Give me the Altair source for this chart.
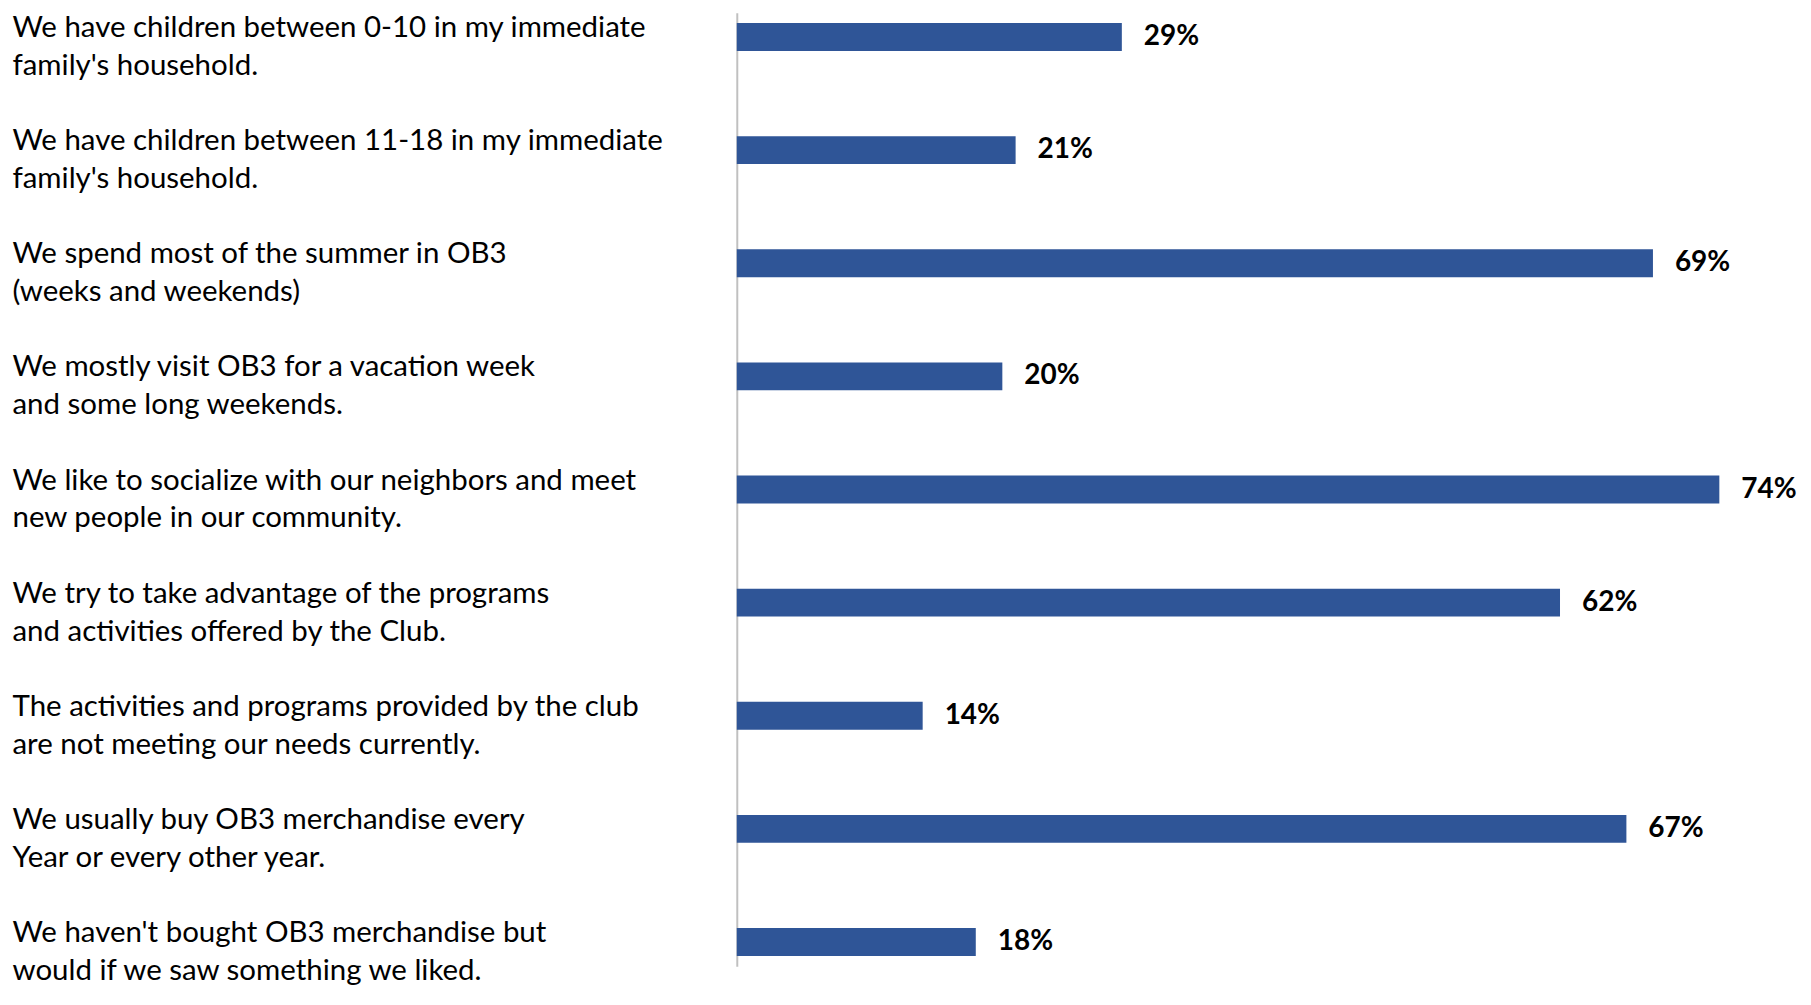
import altair as alt
import pandas as pd

statements = [
    "We have children between 0-10 in my immediate|family's household.",
    "We have children between 11-18 in my immediate|family's household.",
    "We spend most of the summer in OB3|(weeks and weekends)",
    "We mostly visit OB3 for a vacation week|and some long weekends.",
    "We like to socialize with our neighbors and meet|new people in our community.",
    "We try to take advantage of the programs|and activities offered by the Club.",
    "The activities and programs provided by the club|are not meeting our needs currently.",
    "We usually buy OB3 merchandise every|Year or every other year.",
    "We haven't bought OB3 merchandise but|would if we saw something we liked.",
]
shares = [0.29, 0.21, 0.69, 0.20, 0.74, 0.62, 0.14, 0.67, 0.18]

df = pd.DataFrame({"statement": statements, "share": shares})

FONT = "Lato"
BLUE = "#2F5597"

y_enc = alt.Y(
    "statement:N",
    sort=None,
    scale=alt.Scale(paddingInner=0.753, paddingOuter=0.0904),
    axis=alt.Axis(
        title=None,
        ticks=False,
        tickSize=0,
        labelAlign="left",
        labelBaseline="middle",
        labelPadding=726,
        labelOffset=-9,
        labelExpr="split(datum.label, '|')",
        labelLineHeight=38,
        labelFont=FONT,
        labelFontSize=29.5,
        labelColor="#000000",
        labelLimit=0,
        domainColor="#C0C0C0",
        domainWidth=2,
        grid=False,
    ),
)

x_enc = alt.X(
    "share:Q",
    scale=alt.Scale(domain=[0, 0.8]),
    axis=None,
)

bars = alt.Chart(df).mark_bar(color=BLUE).encode(x=x_enc, y=y_enc)

labels = alt.Chart(df).mark_text(
    align="left",
    baseline="middle",
    dx=22,
    font=FONT,
    fontSize=28,
    fontWeight="bold",
    color="#000000",
).encode(x=x_enc, y=alt.Y("statement:N", sort=None), text=alt.Text("share:Q", format=".0%"))

chart = (
    alt.layer(bars, labels)
    .properties(
        width=1064,
        height=955,
        background="white",
        autosize=alt.AutoSizeParams(type="none"),
        padding={"left": 730, "top": 4, "right": 4, "bottom": 22},
    )
    .configure_view(strokeWidth=0, stroke="transparent")
)

chart.save("out.html", embed_options={"renderer": "svg", "actions": False})
